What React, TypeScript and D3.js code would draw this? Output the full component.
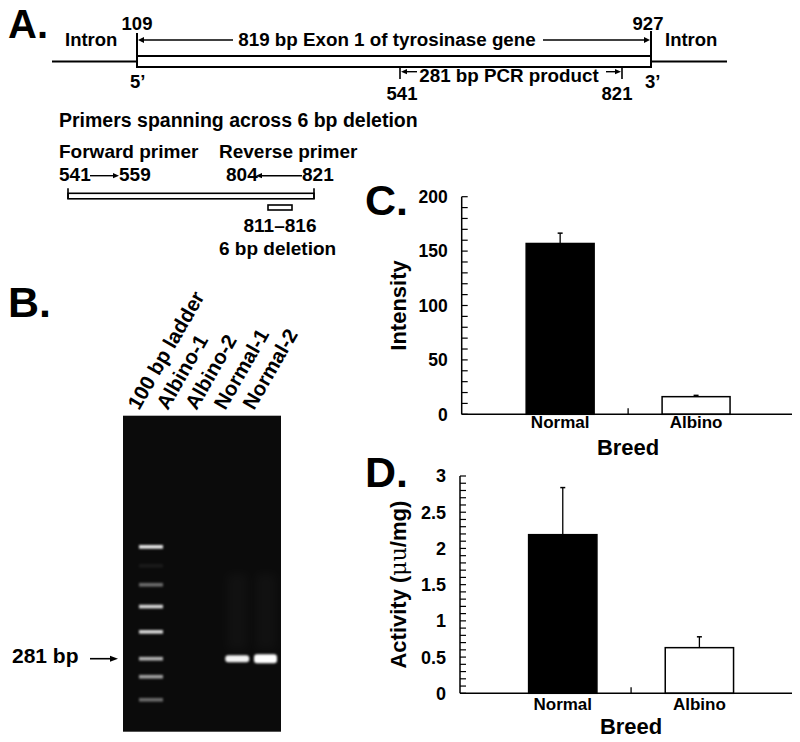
import React, { useEffect } from 'react';
import * as d3 from 'd3';

const FONT = '"Liberation Sans", Arial, Helvetica, sans-serif';

// ---- Panel A: exon 1 schematic (bp positions)
const exonBounds = [109, 927];
const pcrBounds = [541, 821];
const forwardPrimer = [541, 559];
const reversePrimer = [804, 821];
const deletionBounds = [811, 816];

// ---- Panel B: gel (migration as % of gel length, intensity 0..1)
const lanes = ['100 bp ladder', 'Albino-1', 'Albino-2', 'Normal-1', 'Normal-2'];
const ladderMigration = [41.5, 47.5, 53.5, 60.4, 68.4, 76.9, 82.6, 89.9];
const ladderIntensity = [0.92, 0.06, 0.4, 0.85, 0.85, 0.7, 0.62, 0.4];
const sampleLanes = ['Normal-1', 'Normal-2'];
const sampleMigration = [76.9, 76.9];
const sampleIntensity = [0.95, 1];

// ---- Panels C / D
const breeds = ['Normal', 'Albino'];
const intensityMean = [157, 16.2];
const intensityErr = [9.5, 1.2];
const intensityTicks = [0, 50, 100, 150, 200];
const activityMean = [2.19, 0.63];
const activityErr = [0.65, 0.15];
const activityTicks = [0, 0.5, 1, 1.5, 2, 2.5, 3];

const T = (p: any) => (
  <text fontFamily={FONT} fontWeight="bold" fill="#000" {...p} />
);

const Arrow = ({ x1, x2, y, head = 7, hw = 3, sw = 1.6 }: any) => {
  const dir = Math.sign(x2 - x1);
  const bx = x2 - dir * head;
  return (
    <g>
      <line x1={x1} x2={bx} y1={y} y2={y} stroke="#000" strokeWidth={sw} />
      <path d={`M${x2},${y}L${bx},${y - hw}L${bx},${y + hw}Z`} fill="#000" />
    </g>
  );
};

function BarPanel({ means, errs, domain, ticks, minorStep, xRange, yRange, align, labelDy, tickSize, yLabel, letter, letterY }: any) {
  const x = d3.scaleBand<string>().domain(breeds).range(xRange)
    .paddingInner(0.5).paddingOuter(0.465).align(align);
  const y = d3.scaleLinear().domain(domain).range(yRange);
  const minor = d3.range(domain[0], domain[1] + minorStep / 2, minorStep);
  const bw = x.bandwidth();
  const cx = (b: string) => (x(b) as number) + bw / 2;
  const mid = (cx(breeds[0]) + cx(breeds[1])) / 2;
  const y0 = y(0);
  const ax = xRange[0];
  return (
    <g>
      <T x={365} y={letterY} fontSize={43}>{letter}</T>
      {breeds.map((b, i) => (
        <g key={b}>
          <rect x={x(b)} y={y(means[i])} width={bw} height={y0 - y(means[i])}
            fill={i === 0 ? '#000' : '#fff'} stroke="#000" strokeWidth={1.5} />
          <line x1={cx(b)} x2={cx(b)} y1={y(means[i])} y2={y(means[i] + errs[i])} stroke="#000" strokeWidth={1.3} />
          <line x1={cx(b) - 2.5} x2={cx(b) + 2.5} y1={y(means[i] + errs[i])} y2={y(means[i] + errs[i])} stroke="#000" strokeWidth={1.5} />
          <T x={cx(b)} y={y0 + labelDy} fontSize={17} textAnchor="middle">{b}</T>
        </g>
      ))}
      {minor.map((v: number) => (
        <line key={v} x1={ax} x2={ax + 6} y1={y(v)} y2={y(v)} stroke="#000" strokeWidth={1.2} />
      ))}
      {ticks.map((v: number) => (
        <T key={v} x={ax - 14} y={y(v)} dy="0.36em" fontSize={tickSize} textAnchor="end">{v}</T>
      ))}
      <line x1={ax} x2={ax} y1={y(domain[1])} y2={y0} stroke="#000" strokeWidth={1.5} />
      <line x1={ax} x2={xRange[1]} y1={y0} y2={y0} stroke="#000" strokeWidth={1.5} />
      <line x1={mid} x2={mid} y1={y0} y2={y0 - 6} stroke="#000" strokeWidth={1.3} />
      <T x={mid} y={y0 + 41} fontSize={22} textAnchor="middle">Breed</T>
      <T transform={`translate(406,${(y(domain[1]) + y0) / 2}) rotate(-90)`} fontSize={22} textAnchor="middle">{yLabel}</T>
    </g>
  );
}

export default function App() {
  useEffect(() => { document.body.style.margin = '0'; }, []);

  // Panel A scales (schematic, not drawn to scale)
  const gx = d3.scaleLinear().domain([exonBounds[0], pcrBounds[0], pcrBounds[1], exonBounds[1]]).range([137, 400, 622, 651]);
  const px = d3.scaleLinear().domain([pcrBounds[0], deletionBounds[0], deletionBounds[1], pcrBounds[1]]).range([68, 268, 292, 314]);

  // Panel B scales
  const lx = d3.scalePoint<string>().domain(lanes).range([151, 266]);
  const gy = d3.scaleLinear().domain([0, 100]).range([415.7, 731.7]);

  const e0 = gx(exonBounds[0]), e1 = gx(exonBounds[1]);
  const p0 = gx(pcrBounds[0]), p1 = gx(pcrBounds[1]);

  return (
    <svg width={800} height={742} style={{ display: 'block', background: '#fff' }}>
      <defs>
        <filter id="blur" x="-20%" y="-100%" width="140%" height="300%">
          <feGaussianBlur stdDeviation="0.9" />
        </filter>
        <filter id="smear" x="-50%" y="-50%" width="200%" height="200%">
          <feGaussianBlur stdDeviation="5" />
        </filter>
      </defs>

      {/* ---------- A ---------- */}
      <T x={8} y={38} fontSize={40}>A.</T>
      <T x={65} y={46} fontSize={18.5}>Intron</T>
      <T x={665} y={46} fontSize={18.5}>Intron</T>
      <T x={e0} y={30} fontSize={18.5} textAnchor="middle">{exonBounds[0]}</T>
      <T x={e1 - 3} y={30} fontSize={18.5} textAnchor="middle">{exonBounds[1]}</T>
      <line x1={52} x2={e0} y1={61.5} y2={61.5} stroke="#000" strokeWidth={2} />
      <line x1={e1} x2={727} y1={61.5} y2={61.5} stroke="#000" strokeWidth={2} />
      <rect x={e0} y={56} width={e1 - e0} height={11} fill="#fff" stroke="#000" strokeWidth={2} />
      <line x1={e0} x2={e0} y1={33} y2={67} stroke="#000" strokeWidth={2} />
      <line x1={e1} x2={e1} y1={31} y2={67} stroke="#000" strokeWidth={2} />
      <Arrow x1={233} x2={e0 + 1} y={40} head={6} hw={3} />
      <Arrow x1={543} x2={e1 - 1} y={40} head={6} hw={3} />
      <T x={387} y={46} fontSize={18.8} textAnchor="middle">819 bp Exon 1 of tyrosinase gene</T>
      <T x={130} y={88} fontSize={18.5}>5’</T>
      <T x={645} y={88} fontSize={18.5}>3’</T>
      <line x1={p0} x2={p0} y1={68} y2={79} stroke="#000" strokeWidth={1.6} />
      <line x1={p1} x2={p1} y1={68} y2={79} stroke="#000" strokeWidth={1.6} />
      <Arrow x1={417} x2={p0 + 1} y={71.7} head={6} hw={2.6} sw={1.4} />
      <Arrow x1={606} x2={p1 - 1} y={71.7} head={6} hw={2.6} sw={1.4} />
      <T x={509} y={81.5} fontSize={18.8} textAnchor="middle">281 bp PCR product</T>
      <T x={p0 + 2} y={100} fontSize={18.5} textAnchor="middle">{pcrBounds[0]}</T>
      <T x={p1 - 5} y={100} fontSize={18.5} textAnchor="middle">{pcrBounds[1]}</T>

      <T x={59} y={127} fontSize={19.5}>Primers spanning across 6 bp deletion</T>
      <T x={59} y={158} fontSize={19}>Forward primer</T>
      <T x={219} y={158} fontSize={19}>Reverse primer</T>
      <T x={59} y={181} fontSize={19}>{forwardPrimer[0]}</T>
      <Arrow x1={90} x2={119} y={175.7} head={6} hw={2.6} sw={1.4} />
      <T x={119} y={181} fontSize={19}>{forwardPrimer[1]}</T>
      <T x={226} y={181} fontSize={19}>{reversePrimer[0]}</T>
      <Arrow x1={302} x2={256} y={175.7} head={6} hw={2.6} sw={1.4} />
      <T x={302} y={181} fontSize={19}>{reversePrimer[1]}</T>
      <rect x={px(pcrBounds[0])} y={193.3} width={px(pcrBounds[1]) - px(pcrBounds[0])} height={5.5} fill="#fff" stroke="#000" strokeWidth={1.6} />
      <line x1={px(pcrBounds[0])} x2={px(pcrBounds[0])} y1={188.3} y2={199} stroke="#000" strokeWidth={1.6} />
      <line x1={px(pcrBounds[1])} x2={px(pcrBounds[1])} y1={188.3} y2={199} stroke="#000" strokeWidth={1.6} />
      <rect x={px(deletionBounds[0])} y={205} width={px(deletionBounds[1]) - px(deletionBounds[0])} height={5} fill="#fff" stroke="#000" strokeWidth={1.6} />
      <T x={280} y={232} fontSize={19} textAnchor="middle">{deletionBounds[0]}–{deletionBounds[1]}</T>
      <T x={219} y={255} fontSize={19}>6 bp deletion</T>

      {/* ---------- B ---------- */}
      <T x={8} y={316.5} fontSize={43}>B.</T>
      {lanes.map(l => (
        <T key={l} transform={`translate(${(lx(l) as number) - 12},${411}) rotate(-60)`} fontSize={20.5}>{l}</T>
      ))}
      <rect x={123} y={gy(0)} width={158} height={gy(100) - gy(0)} fill="#0b0b0b" />
      {sampleLanes.map(l => (
        <rect key={'s' + l} x={(lx(l) as number) - 10} y={gy(50)} width={20} height={gy(74) - gy(50)} fill="#fff" opacity={0.022} filter="url(#smear)" />
      ))}
      {ladderMigration.map((m, i) => (
        <rect key={i} x={(lx(lanes[0]) as number) - 12} y={gy(m) - 1.8} width={24} height={3.6}
          fill="#fff" opacity={ladderIntensity[i]} filter="url(#blur)" />
      ))}
      {sampleLanes.map((l, i) => (
        <rect key={l} x={(lx(l) as number) - 12} y={gy(sampleMigration[i]) - (i ? 4.5 : 3.5)} width={i ? 23 : 24} height={i ? 9 : 7} rx={3}
          fill="#fff" opacity={sampleIntensity[i]} filter="url(#blur)" />
      ))}
      <T x={12} y={663} fontSize={21}>281 bp</T>
      <Arrow x1={90} x2={118} y={658.7} head={8} hw={3} sw={1.6} />

      {/* ---------- C ---------- */}
      <BarPanel means={intensityMean} errs={intensityErr} domain={[0, 200]} ticks={intensityTicks} minorStep={10}
        xRange={[461.7, 792]} yRange={[414.3, 196.7]} align={0.51} labelDy={14} tickSize={17.5}
        yLabel="Intensity" letter="C." letterY={215} />

      {/* ---------- D ---------- */}
      <BarPanel means={activityMean} errs={activityErr} domain={[0, 3]} ticks={activityTicks} minorStep={0.1}
        xRange={[460, 792]} yRange={[693.3, 476]} align={0.54} labelDy={17} tickSize={18}
        yLabel={<>Activity (<tspan fontWeight="normal" fontFamily='"DejaVu Serif", serif'>μu</tspan>/mg)</>} letter="D." letterY={487} />
    </svg>
  );
}
